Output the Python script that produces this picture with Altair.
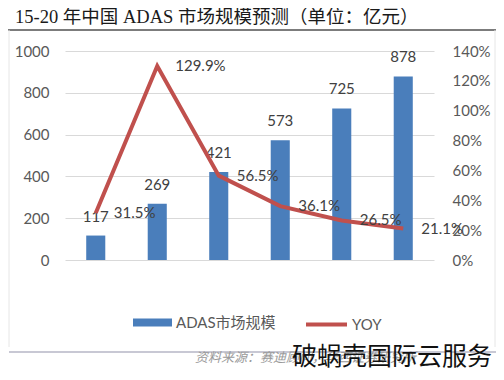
import altair as alt
import pandas as pd

years = ["2015", "2016", "2017", "2018e", "2019e", "2020e"]
market = [117, 269, 421, 573, 725, 878]
yoy = [31.5, 129.9, 56.5, 36.1, 26.5, 21.1]
left_ticks = [0, 200, 400, 600, 800, 1000]
right_ticks = [0, 20, 40, 60, 80, 100, 120, 140]

title_text = "15-20 年中国 ADAS 市场规模预测（单位：亿元）"
source_text = "资料来源：赛迪顾问，华西证券研究所"
watermark_text = "破蜗壳国际云服务"
bar_name = "ADAS市场规模"
line_name = "YOY"

df = pd.DataFrame({
    "year": years,
    "market": market,
    "yoy": yoy,
    "s1": [bar_name] * len(years),
    "s2": [line_name] * len(years),
})
df["yoy_label"] = [f"{v:.1f}%" for v in yoy]

LAT = "Lato, 'Noto Sans CJK SC'"
BLUE = "#4A7EBB"
RED = "#C0504D"

x = alt.X("year:N", sort=years, title=None,
          scale=alt.Scale(paddingInner=0.69, paddingOuter=0.345),
          axis=alt.Axis(labelAngle=0, ticks=False, domainColor="#d9d9d9",
                        labelFont=LAT, labelFontSize=15, labelColor="#595959",
                        labelPadding=14))
x_plain = alt.X("year:N", sort=years, title=None,
                scale=alt.Scale(paddingInner=0.69, paddingOuter=0.345), axis=None)

y_left = alt.Y("market:Q", title=None,
               scale=alt.Scale(domain=[0, 1000]),
               axis=alt.Axis(values=left_ticks, grid=True, gridColor="#d9d9d9",
                             domain=False, ticks=False, labelFont=LAT, format="d",
                             labelFontSize=15, labelColor="#595959",
                             labelPadding=16))

y_right = alt.Y("yoy:Q", title=None,
                scale=alt.Scale(domain=[0, 140]),
                axis=alt.Axis(orient="right", values=right_ticks, grid=False,
                              domain=False, ticks=False, labelFont=LAT,
                              labelFontSize=15, labelColor="#595959",
                              labelPadding=18, labelExpr="datum.value + '%'"))

bars = alt.Chart(df).mark_bar().encode(
    x=x, y=y_left,
    color=alt.Color("s1:N", scale=alt.Scale(domain=[bar_name], range=[BLUE]),
                    legend=alt.Legend(title=None, orient="none", legendX=68, legendY=252,
                                      symbolType="M-1,-0.205H1V0.205H-1Z",
                                      symbolSize=1521, symbolStrokeWidth=0,
                                      labelFont=LAT, labelFontSize=15,
                                      labelColor="#595959", labelOffset=4)),
)
bar_text = alt.Chart(df).mark_text(baseline="middle", dy=-19, font=LAT,
                                   fontSize=15, color="#404040").encode(
    x=x_plain,
    y=alt.Y("market:Q", axis=None, scale=alt.Scale(domain=[0, 1000])),
    text=alt.Text("market:Q"),
)

line = alt.Chart(df).mark_line(strokeWidth=4).encode(
    x=x_plain, y=y_right,
    stroke=alt.Stroke("s2:N", scale=alt.Scale(domain=[line_name], range=[RED]),
                      legend=alt.Legend(title=None, orient="none", legendX=239, legendY=251,
                                        symbolType="M-1,0H1", symbolSize=1681,
                                        symbolStrokeWidth=4,
                                        labelFont=LAT, labelFontSize=15,
                                        labelColor="#595959", labelOffset=3)),
)
line_text = alt.Chart(df).mark_text(align="left", baseline="middle", dx=18,
                                    font=LAT, fontSize=15, color="#404040").encode(
    x=x_plain,
    y=alt.Y("yoy:Q", axis=None, scale=alt.Scale(domain=[0, 140])),
    text="yoy_label:N",
)

one = alt.InlineData(values=[{"k": 1}])

title = alt.Chart(one).mark_text(align="left", baseline="middle",
                                 font="'Liberation Serif', 'Noto Sans CJK SC'",
                                 fontSize=18.5, color="#1a1a1a").encode(
    x=alt.value(-50), y=alt.value(-34), text=alt.value(title_text))
rule_top = alt.Chart(one).mark_rule(color="#505050", strokeWidth=1.5).encode(
    x=alt.value(-57), x2=alt.value(431), y=alt.value(-21))
rule_left = alt.Chart(one).mark_rule(color="#e6e6e6", strokeWidth=1).encode(
    x=alt.value(-56), y=alt.value(-21), y2=alt.value(296))
rule_right = alt.Chart(one).mark_rule(color="#e6e6e6", strokeWidth=1).encode(
    x=alt.value(430), y=alt.value(-21), y2=alt.value(296))
rule_bottom = alt.Chart(one).mark_rule(color="#c8c8d4", strokeWidth=2).encode(
    x=alt.value(-56), x2=alt.value(431), y=alt.value(301))
source = alt.Chart(one).mark_text(align="left", baseline="middle",
                                  font="'Liberation Serif', 'Noto Sans CJK SC'",
                                  fontSize=13, fontStyle="italic",
                                  color="#9a9a9a").encode(
    x=alt.value(130), y=alt.value(307), text=alt.value(source_text))
watermark = alt.Chart(one).mark_text(align="left", baseline="middle",
                                     font="'Noto Sans CJK SC'", fontSize=25,
                                     color="#111111").encode(
    x=alt.value(227), y=alt.value(306), text=alt.value(watermark_text))

chart = alt.layer(
    bars, bar_text, line, line_text,
    title, rule_top, rule_left, rule_right, rule_bottom, source, watermark
).resolve_scale(
    y="independent", color="independent", stroke="independent"
).properties(
    width=369, height=209,
    padding={"left": 57, "top": 43, "right": 62, "bottom": 108},
    autosize=alt.AutoSizeParams(type="none"),
    background="white",
).configure_view(stroke=None)

chart.save("out.html", embed_options={"renderer": "svg", "actions": False})
